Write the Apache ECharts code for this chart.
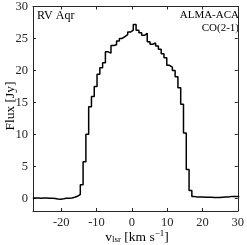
<!DOCTYPE html>
<html>
<head>
<meta charset="utf-8">
<script src="https://cdn.jsdelivr.net/npm/echarts@6/dist/echarts.min.js"></script>
<style>html,body{margin:0;padding:0;background:#fff}#c{width:247px;height:245px}</style>
</head>
<body>
<div id="c"></div>
<script>
// channel left edges (km/s) and flux per channel (Jy)
const velocity = [-28.03,-27.24,-26.45,-25.66,-24.87,-24.08,-23.29,-22.50,-21.71,-20.92,-20.13,-19.34,-18.55,-17.76,-16.97,-16.18,-15.39,
  -14.60,-13.81,-13.02,-12.23,-11.44,-10.65,-9.86,-9.07,-8.28,-7.49,-6.70,-5.91,-5.12,-4.33,-3.54,-2.75,-1.96,-1.17,-0.38,
  0.41,1.20,1.99,2.78,3.57,4.36,5.15,5.94,6.73,7.52,8.31,9.10,9.89,10.68,11.47,12.26,13.05,13.84,14.63,15.42,16.21,17.00,
  17.79,18.58,19.37,20.16,20.95,21.74,22.53,23.32,24.11,24.90,25.69,26.48,27.27,28.06,28.85,29.64,30.43];
const flux = [0.02,0.02,0.00,0.03,0.02,0.00,0.00,-0.05,-0.12,-0.15,-0.10,-0.02,0.00,0.05,0.15,0.30,0.60,
  2.1,5.7,10.0,14.3,15.9,17.5,19.4,20.4,21.2,22.9,22.7,23.9,24.0,24.6,25.0,25.3,25.6,26.0,26.3,
  27.2,26.3,25.9,25.5,25.8,24.5,24.1,24.3,23.8,23.3,22.6,22.0,20.8,20.5,20.0,19.0,17.3,14.7,10.2,4.5,1.2,0.25,
  0.20,0.20,0.20,0.15,0.15,0.15,0.10,0.10,0.10,0.15,0.20,0.20,0.25,0.25,0.25,0.25,0.25];
const xTicks = [-20,-10,0,10,20,30];
const yTicks = [0,5,10,15,20,25,30];
const xRange = [-28, 30];
const yRange = [-2, 30];

const FONT = 'Liberation Serif';
const AX = '#262626';
const chart = echarts.init(document.getElementById('c'), null, {renderer:'canvas'});
function axisBase(pos, range, ticks, showLabel) {
  return {
    type:'value', position:pos, min:range[0], max:range[1],
    axisLine:{show:true, onZero:false, lineStyle:{color:AX, width:1}},
    axisTick:{show:true, inside:true, length:3, customValues:ticks, lineStyle:{color:AX}},
    axisLabel:{show:showLabel, customValues:ticks, color:AX, fontFamily:FONT, fontSize:12.5, margin:5},
    splitLine:{show:false}
  };
}
const data = velocity.map((v,i)=>[v, flux[i]]);
chart.setOption({
  animation:false,
  grid:{left:33, right:6, top:5, bottom:34, containLabel:false},
  xAxis:[axisBase('bottom', xRange, xTicks, true), axisBase('top', xRange, xTicks, false)],
  yAxis:[axisBase('left', yRange, yTicks, true), axisBase('right', yRange, yTicks, false)],
  series:[{type:'line', step:'end', data:data, xAxisIndex:0, yAxisIndex:0, showSymbol:false,
    lineStyle:{color:'#000', width:1.5}, clip:true}],
  graphic:[
    {type:'text', left:37, top:10, style:{text:'RV Aqr', font:'12px "Liberation Serif"', fill:'#000'}},
    {type:'text', right:8, top:10, style:{text:'ALMA-ACA', font:'11px "Liberation Serif"', fill:'#000', align:'right'}},
    {type:'text', right:8, top:23, style:{text:'CO(2-1)', font:'11px "Liberation Serif"', fill:'#000', align:'right'}},
    {type:'text', x:3, y:106, rotation:Math.PI/2, style:{text:'Flux [Jy]', font:'13.5px "Liberation Serif"', fill:'#000', align:'center', verticalAlign:'top'}},
    {type:'text', x:137, y:229, style:{
      text:'{n|v}{s|lsr}{n| [km s}{p|−1}{n|]}',
      align:'center',
      rich:{
        n:{fontFamily:FONT, fontSize:13.5, color:'#000', verticalAlign:'bottom', lineHeight:15},
        s:{fontFamily:FONT, fontSize:9, color:'#000', verticalAlign:'bottom', lineHeight:11},
        p:{fontFamily:FONT, fontSize:9, color:'#000', verticalAlign:'top', lineHeight:11, padding:[0,0,6,0]}
      }}}
  ]
});
</script>
</body>
</html>
